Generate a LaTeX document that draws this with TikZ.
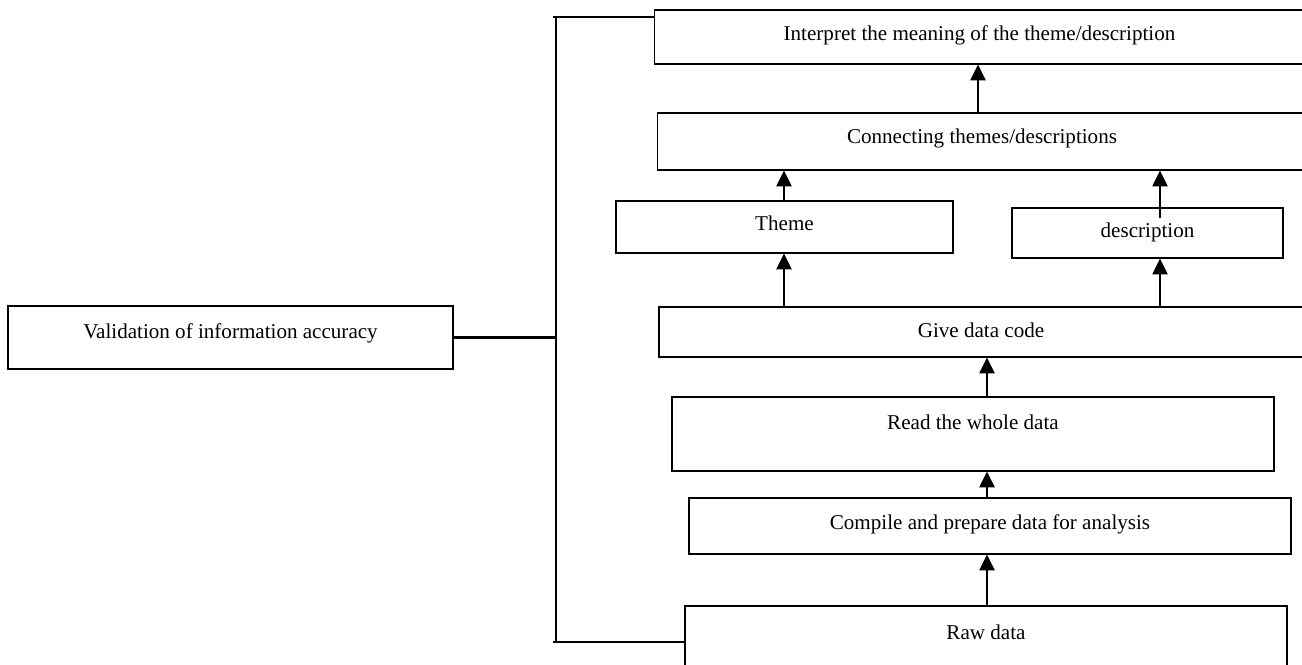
\documentclass[tikz,border=0pt]{standalone}
\usepackage{fontspec}
\setmainfont{Liberation Serif}
\usetikzlibrary{arrows.meta}
\begin{document}
\begin{tikzpicture}[x=0.02cm,y=-0.02cm,
  box/.style={draw=black,line width=0.65pt,rectangle,inner sep=0pt,
    font=\fontsize{12}{14}\selectfont,text height=8pt,text depth=4pt},
  arr/.style={line width=1.45pt,-{Triangle[width=8.5pt,length=9pt]}},
  brk/.style={line width=1.2pt}]
\clip (0,0) rectangle (1302,664);
\node[box,minimum width=13.02cm,minimum height=1.08cm] (interp) at (979.5,37) {Interpret the meaning of the theme/description};
\node[box,minimum width=13.0cm,minimum height=1.14cm,text depth=5.6pt] (conn) at (982,141.5) {Connecting themes/descriptions};
\node[box,minimum width=6.74cm,minimum height=1.04cm] (theme) at (784.5,227) {Theme};
\node[box,minimum width=5.42cm,minimum height=1.0cm,text depth=3pt] (desc) at (1147.5,233) {description};
\node[box,minimum width=12.88cm,minimum height=1.0cm,text depth=1.5pt] (gdc) at (981,332) {Give data code};
\node[box,minimum width=12.04cm,minimum height=1.48cm,text depth=13.4pt] (read) at (973,434) {Read the whole data};
\node[box,minimum width=12.04cm,minimum height=1.12cm] (comp) at (990,526) {Compile and prepare data for analysis};
\node[box,minimum width=12.04cm,minimum height=1.2cm] (raw) at (986,636) {Raw data};
\node[box,minimum width=8.9cm,minimum height=1.26cm,text depth=6.6pt] (val) at (230.5,337.5) {Validation of information accuracy};
% bracket
\coordinate (btop) at (556,17);
\coordinate (bbot) at (556,642);
\draw[brk] (interp.west |- btop) -- ([xshift=-0.06cm]btop);
\draw[brk] ([yshift=0.02cm]btop) -- ([yshift=-0.02cm]bbot);
\draw[brk] ([xshift=-0.06cm]bbot) -- (raw.west |- bbot);
\draw[brk] (val.east) -- (val.east -| btop);
% arrow x positions
\coordinate (xA) at (987,0);
\coordinate (xT) at (784,0);
\coordinate (xD) at (1160,0);
\coordinate (xI) at (978,0);
\coordinate (d7) at ([yshift=-0.22cm]desc.north);
\draw[arr] (raw.north -| xA) -- (comp.south -| xA);
\draw[arr] (comp.north -| xA) -- (read.south -| xA);
\draw[arr] (read.north -| xA) -- (gdc.south -| xA);
\draw[arr] (gdc.north -| xT) -- (theme.south -| xT);
\draw[arr] (gdc.north -| xD) -- (desc.south -| xD);
\draw[arr] (theme.north -| xT) -- (conn.south -| xT);
\draw[arr] (d7 -| xD) -- (conn.south -| xD);
\draw[arr] (conn.north -| xI) -- (interp.south -| xI);
\end{tikzpicture}
\end{document}
